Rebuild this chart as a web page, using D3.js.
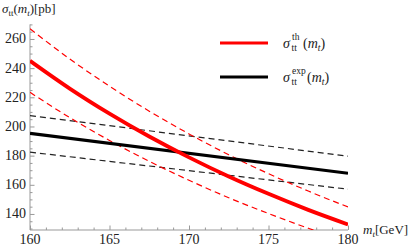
<!DOCTYPE html>
<html>
<head>
<meta charset="utf-8">
<script src="https://cdn.jsdelivr.net/npm/d3@7"></script>
<style>
  body { margin: 0; background: #fff; }
  text { font-family: "Liberation Serif", "DejaVu Serif", serif; }
</style>
</head>
<body>
<svg id="chart" width="415" height="248"></svg>
<script>
// top mass values (GeV)
const masses = [160, 162.5, 165, 167.5, 170, 172.5, 175, 177.5, 180];
// theory cross section and its band (pb)
const thCentral = [245, 226, 208.8, 193.1, 178.8, 165.7, 153.8, 142.8, 132.8];
const thUpper = [267, 246.3, 227.6, 210.5, 194.9, 180.6, 167.6, 155.7, 144.8];
const thLower = [223.4, 206.1, 190.4, 176.1, 163.1, 151.1, 140.3, 130.2, 121.1];
// experimental cross section and its band (pb)
const expMasses = [160, 180];
const expCentral = [195.3, 167.9];
const expUpper = [207.5, 179.6];
const expLower = [182.4, 157.0];

const xTicks = [160, 165, 170, 175, 180];
const yTicks = [140, 160, 180, 200, 220, 240, 260];

const svg = d3.select("#chart");
const x = d3.scaleLinear().domain([160, 180]).range([30, 348]);
const y = d3.scaleLinear().domain([129, 270]).range([230, 24.4]);

const AXIS_COLOR = "#999";

svg.append("defs").append("clipPath").attr("id", "plot-clip")
  .append("rect")
  .attr("x", x(160)).attr("y", y(270))
  .attr("width", x(180) - x(160)).attr("height", y(129) - y(270));

// axes
const xAxis = svg.append("g").attr("transform", `translate(0,${y(129)})`)
  .call(d3.axisBottom(x).tickValues(d3.range(160, 181, 1)).tickSize(-2).tickFormat(""));
xAxis.selectAll(".tick line")
  .attr("y2", (d) => (d % 5 === 0 ? -4.5 : -2.5));
xAxis.select(".domain").attr("d", `M${x(160)},0H${x(180)}`);

const yAxis = svg.append("g").attr("transform", `translate(${x(160)},0)`)
  .call(d3.axisLeft(y).tickValues(d3.range(130, 271, 5)).tickSize(-2).tickFormat(""));
yAxis.selectAll(".tick line")
  .attr("x2", (d) => (d % 20 === 0 ? 4.5 : 2.5));
yAxis.select(".domain").attr("d", `M0,${y(129)}V${y(270)}`);

svg.selectAll(".domain, .tick line").attr("stroke", AXIS_COLOR).attr("stroke-width", 1);

svg.append("g").selectAll("text").data(xTicks).join("text")
  .attr("x", (d) => x(d)).attr("y", 244)
  .attr("text-anchor", "middle").attr("font-size", 14).attr("fill", "#222")
  .text((d) => d);

svg.append("g").selectAll("text").data(yTicks).join("text")
  .attr("x", 26).attr("y", (d) => y(d) + 4.5)
  .attr("text-anchor", "end").attr("font-size", 14).attr("fill", "#222")
  .text((d) => d);

// axis labels
const yLabel = svg.append("text").attr("x", 2).attr("y", 13).attr("font-size", 13).attr("fill", "#222");
yLabel.append("tspan").attr("font-style", "italic").text("σ");
yLabel.append("tspan").attr("font-size", 9).attr("dy", 3).text("tt");
yLabel.append("tspan").attr("dy", -3).text("(");
yLabel.append("tspan").attr("font-style", "italic").text("m");
yLabel.append("tspan").attr("font-style", "italic").attr("font-size", 9).attr("dy", 3).text("t");
yLabel.append("tspan").attr("dy", -3).text(")[pb]");

const xLabel = svg.append("text").attr("x", 363).attr("y", 234).attr("font-size", 13).attr("fill", "#222");
xLabel.append("tspan").attr("font-style", "italic").text("m");
xLabel.append("tspan").attr("font-style", "italic").attr("font-size", 9).attr("dy", 3).text("t");
xLabel.append("tspan").attr("dy", -3).text("[GeV]");

// curves
const plot = svg.append("g").attr("clip-path", "url(#plot-clip)");
const line = (xs) => d3.line().x((d, i) => x(xs[i])).y((d) => y(d)).curve(d3.curveMonotoneX);

const series = [
  { xs: expMasses, v: expUpper, color: "#222", width: 1.2, dash: "6,4" },
  { xs: expMasses, v: expLower, color: "#222", width: 1.2, dash: "6,4" },
  { xs: masses, v: thUpper, color: "#f00", width: 1.2, dash: "6,4" },
  { xs: masses, v: thLower, color: "#f00", width: 1.2, dash: "6,4" },
  { xs: expMasses, v: expCentral, color: "#000", width: 3.2, dash: null },
  { xs: masses, v: thCentral, color: "#f00", width: 3.8, dash: null },
];

plot.selectAll("path").data(series).join("path")
  .attr("d", (s) => line(s.xs)(s.v))
  .attr("fill", "none")
  .attr("stroke", (s) => s.color)
  .attr("stroke-width", (s) => s.width)
  .attr("stroke-dasharray", (s) => s.dash);

// legend
const legendItems = [
  { color: "#f00", sup: "th", y: 43, parenX: 303 },
  { color: "#000", sup: "exp", y: 77, parenX: 307 },
];
const legend = svg.append("g").attr("fill", "#222");
legendItems.forEach((item) => {
  legend.append("line")
    .attr("x1", 220).attr("x2", 268).attr("y1", item.y).attr("y2", item.y)
    .attr("stroke", item.color).attr("stroke-width", 3);
  const base = item.y + 4.5;
  legend.append("text").attr("x", 283).attr("y", base)
    .attr("font-size", 14).attr("font-style", "italic").text("σ");
  legend.append("text").attr("x", 291.5).attr("y", base + 3)
    .attr("font-size", 9.5).text("tt");
  legend.append("text").attr("x", 292).attr("y", base - 8)
    .attr("font-size", 9.5).text(item.sup);
  const t = legend.append("text").attr("x", item.parenX).attr("y", base).attr("font-size", 14);
  t.append("tspan").text("(");
  t.append("tspan").attr("font-style", "italic").text("m");
  t.append("tspan").attr("font-style", "italic").attr("font-size", 9.5).attr("dy", 3).text("t");
  t.append("tspan").attr("dy", -3).text(")");
});
</script>
</body>
</html>
